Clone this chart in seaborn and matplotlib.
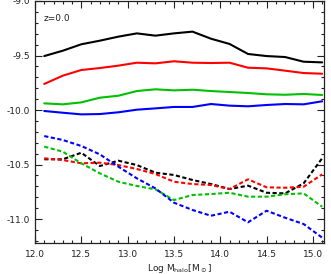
import numpy as np
import pandas as pd
import seaborn as sns
import matplotlib.pyplot as plt
from matplotlib.ticker import MultipleLocator

# halo mass bins
log_mhalo = [12.1, 12.3, 12.5, 12.7, 12.9, 13.1, 13.3, 13.5,
             13.7, 13.9, 14.1, 14.3, 14.5, 14.7, 14.9, 15.1]

# solid lines
black_solid = [-9.505, -9.456, -9.397, -9.364, -9.327, -9.297, -9.318, -9.297,
               -9.281, -9.346, -9.394, -9.486, -9.505, -9.514, -9.557, -9.563]
red_solid = [-9.761, -9.685, -9.633, -9.615, -9.593, -9.566, -9.572, -9.553,
             -9.566, -9.569, -9.566, -9.612, -9.618, -9.639, -9.661, -9.667]
green_solid = [-9.939, -9.948, -9.930, -9.887, -9.869, -9.826, -9.810, -9.820,
               -9.814, -9.826, -9.835, -9.844, -9.856, -9.860, -9.853, -9.862]
blue_solid = [-10.009, -10.025, -10.040, -10.037, -10.021, -9.997, -9.985, -9.972,
              -9.972, -9.945, -9.960, -9.966, -9.954, -9.945, -9.948, -9.920]

# dashed lines
black_dashed = [-10.452, -10.452, -10.392, -10.514, -10.465, -10.505, -10.575, -10.596,
                -10.642, -10.679, -10.725, -10.694, -10.759, -10.765, -10.673, -10.443]
red_dashed = [-10.443, -10.459, -10.489, -10.483, -10.505, -10.541, -10.587, -10.658,
              -10.679, -10.688, -10.725, -10.636, -10.709, -10.713, -10.704, -10.590]
green_dashed = [-10.336, -10.382, -10.489, -10.581, -10.658, -10.697, -10.728, -10.826,
                -10.780, -10.771, -10.759, -10.795, -10.795, -10.773, -10.765, -10.887]
blue_dashed = [-10.239, -10.275, -10.330, -10.407, -10.520, -10.627, -10.719, -10.850,
               -10.917, -10.970, -10.933, -11.030, -10.924, -10.988, -11.046, -11.171]

colors = {'black': 'black', 'red': '#ff0000', 'green': '#00c000', 'blue': '#0000ff'}

rows = []
for name, vals, style in [('black', black_solid, 'solid'), ('red', red_solid, 'solid'),
                          ('green', green_solid, 'solid'), ('blue', blue_solid, 'solid'),
                          ('black', black_dashed, 'dashed'), ('red', red_dashed, 'dashed'),
                          ('green', green_dashed, 'dashed'), ('blue', blue_dashed, 'dashed')]:
    for x, y in zip(log_mhalo, vals):
        rows.append({'x': x, 'y': y, 'color': name, 'style': style, 'key': name + style})
df = pd.DataFrame(rows)

sns.set_style('ticks')
plt.rcParams['font.family'] = ['DejaVu Sans']

fig = plt.figure(figsize=(3.31, 2.74), dpi=100)
ax = fig.add_axes([35 / 331, 1 - 243 / 274, (324 - 35) / 331, (243 - 1) / 274])

for key, sub in df.groupby('key', sort=False):
    c = colors[sub['color'].iloc[0]]
    if sub['style'].iloc[0] == 'solid':
        sns.lineplot(data=sub, x='x', y='y', ax=ax, color=c, lw=1.5)
    else:
        sns.lineplot(data=sub, x='x', y='y', ax=ax, color=c, lw=1.5,
                     dashes=False, linestyle=(0, (2, 1.2)))

ax.set_xlim(12.0, 15.12)
ax.set_ylim(-11.22, -9.0)
ax.xaxis.set_major_locator(MultipleLocator(0.5))
ax.xaxis.set_minor_locator(MultipleLocator(0.1))
ax.yaxis.set_major_locator(MultipleLocator(0.5))
ax.yaxis.set_minor_locator(MultipleLocator(0.1))
ax.xaxis.set_major_formatter(plt.FormatStrFormatter('%.1f'))
ax.yaxis.set_major_formatter(plt.FormatStrFormatter('%.1f'))
ax.tick_params(which='both', direction='in', top=True, right=True, width=0.8, color='#222222')
ax.tick_params(which='major', length=5, labelsize=6.5, labelcolor='#222222')
ax.tick_params(which='minor', length=2.5)
ax.tick_params(axis='x', pad=5)
ax.tick_params(axis='y', pad=3.5)
for s in ax.spines.values():
    s.set_linewidth(0.9)
    s.set_color('#222222')

ax.set_xlabel(r'Log M$_{\rm halo}$[M$_\odot$]', fontsize=6.5, color='#222222', labelpad=2)
ax.set_ylabel('')
ax.text(0.031, 0.945, 'z=0.0', transform=ax.transAxes, fontsize=6.5,
        ha='left', va='top', color='#222222')

fig.savefig('out.png', dpi=100)
